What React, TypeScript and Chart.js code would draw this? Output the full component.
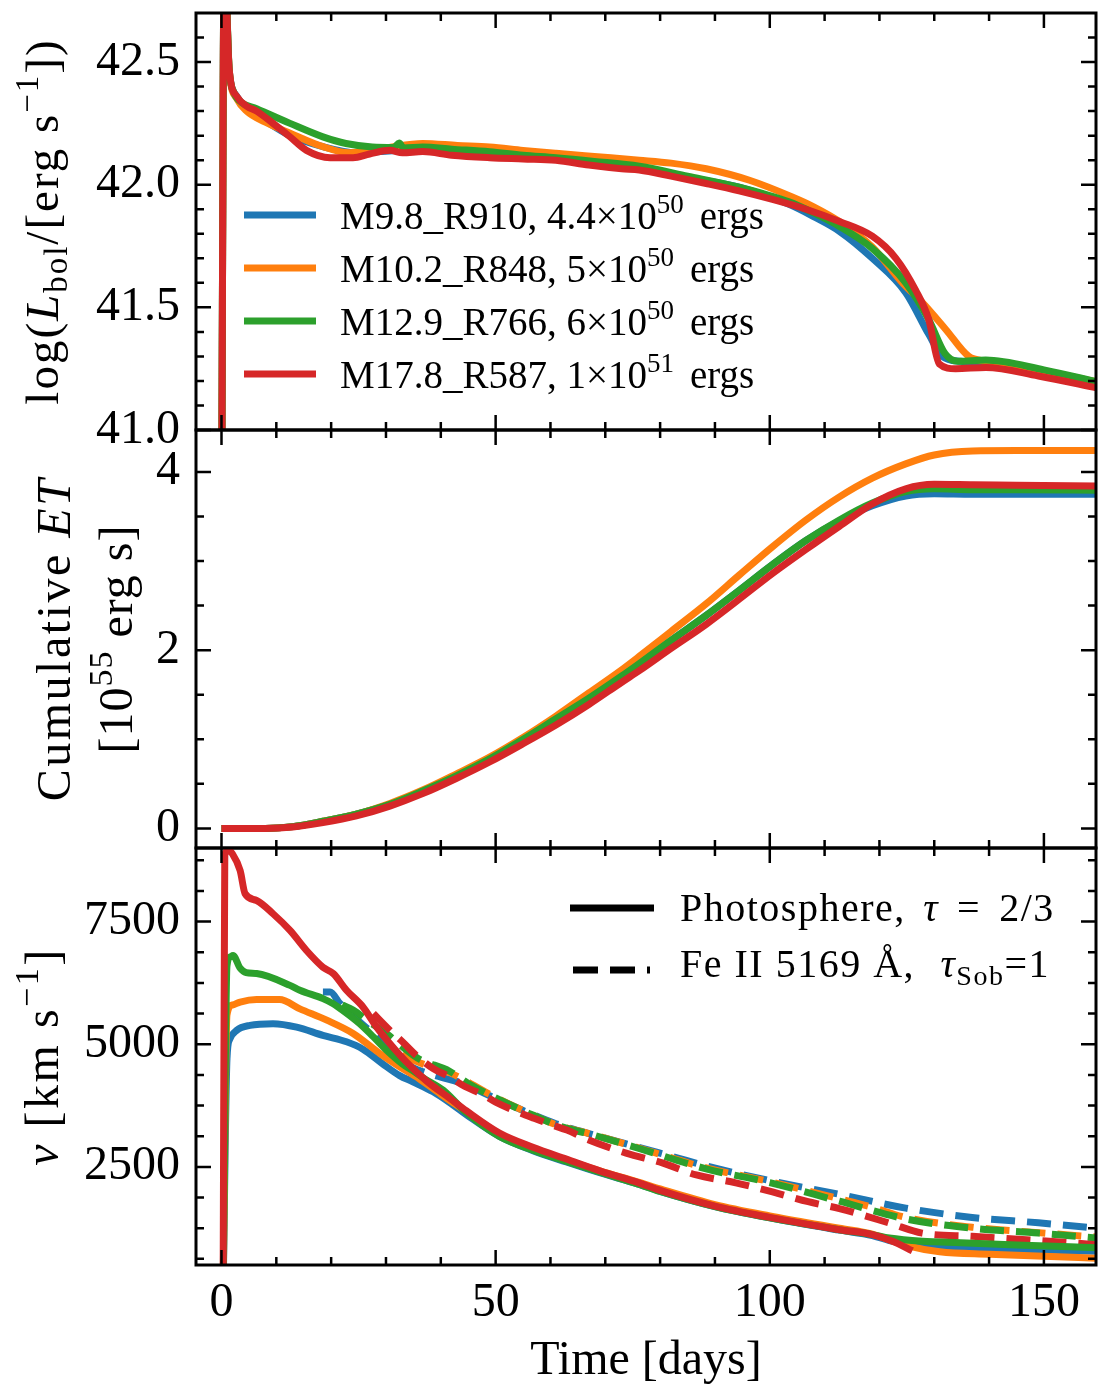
import React, { useEffect, useRef } from 'react';
import { Chart, registerables } from 'chart.js';

Chart.register(...registerables);

const FONT = '"Liberation Serif", "Times New Roman", serif';
const COLORS = ['#1f77b4', '#ff7f0e', '#2ca02c', '#d62728'];

// ---------- legend labels ----------
const MODEL_NAMES = ['M9.8_R910', 'M10.2_R848', 'M12.9_R766', 'M17.8_R587'];
const ENERGY_MANTISSA = ['4.4', '5', '6', '1'];
const ENERGY_EXP = ['50', '50', '50', '51'];

// ---------- axes ----------
const X_MIN = -4.65;
const X_MAX = 159.5;
const X_MAJOR = [0, 50, 100, 150];
const X_MINOR = [10, 20, 30, 40, 60, 70, 80, 90, 110, 120, 130, 140];

const L_MIN = 41.0;
const L_MAX = 42.7;
const L_MAJOR = [41.0, 41.5, 42.0, 42.5];
const L_MINOR = [41.1, 41.2, 41.3, 41.4, 41.6, 41.7, 41.8, 41.9, 42.1, 42.2, 42.3, 42.4, 42.6];

const E_MIN = -0.22;
const E_MAX = 4.47;
const E_MAJOR = [0, 2, 4];
const E_MINOR = [0.5, 1.0, 1.5, 2.5, 3.0, 3.5];

const V_MIN = 500;
const V_MAX = 9000;
const V_MAJOR = [2500, 5000, 7500];
const V_MINOR = [625, 1250, 1875, 3125, 3750, 4375, 5625, 6250, 6875, 8125, 8750];

// ---------- panel 1: log L_bol ----------
const L_T_BLUE = [0, 0.5, 1.4, 2.8, 4.6, 8, 12.5, 18.5, 24.5, 33.7, 40, 50, 60, 70, 76.2, 85, 94.4, 103.5, 108, 112.7, 118.7, 124.8, 129, 131.5, 134.8, 143, 150, 160];
const L_BLUE = [40.5, 42.95, 42.47, 42.36, 42.31, 42.26, 42.2, 42.155, 42.13, 42.14, 42.135, 42.12, 42.105, 42.09, 42.07, 42.03, 41.99, 41.92, 41.87, 41.81, 41.70, 41.56, 41.39, 41.30, 41.28, 41.27, 41.24, 41.19];

const L_T_ORANGE = [0, 0.5, 1.4, 2.8, 4.6, 8, 12.5, 18.5, 23.3, 30, 36.7, 43, 48.9, 55, 61, 68, 76.2, 82, 88.4, 96.3, 104.1, 108, 112.7, 118.7, 124.2, 127.8, 132.1, 136.3, 139.4, 150, 160];
const L_ORANGE = [40.5, 42.95, 42.47, 42.35, 42.30, 42.255, 42.21, 42.155, 42.13, 42.15, 42.168, 42.16, 42.154, 42.14, 42.128, 42.115, 42.10, 42.088, 42.065, 42.018, 41.95, 41.91, 41.85, 41.746, 41.60, 41.52, 41.41, 41.30, 41.28, 41.24, 41.195];

const L_T_GREEN = [0, 0.5, 1.4, 2.2, 3.4, 6.4, 12.5, 18.5, 22.7, 27.5, 31.5, 32.4, 33.2, 36.7, 42, 48.9, 55, 61, 68, 76.2, 85, 94.4, 103.5, 108, 112.7, 118.7, 124.8, 129, 132, 134.3, 139.4, 150, 160];
const L_GREEN = [40.5, 42.95, 42.47, 42.38, 42.34, 42.31, 42.25, 42.195, 42.168, 42.154, 42.152, 42.17, 42.15, 42.154, 42.145, 42.134, 42.12, 42.11, 42.095, 42.075, 42.035, 41.99, 41.93, 41.885, 41.83, 41.74, 41.60, 41.45, 41.31, 41.28, 41.285, 41.245, 41.195];

const L_T_RED = [0, 0.5, 1.4, 2.8, 4.6, 6.4, 9.4, 12.5, 15.5, 19.8, 24, 27, 30.7, 33, 36.7, 42, 48.9, 55, 61, 67, 73, 76.2, 82, 88.4, 94.4, 100.5, 106.6, 112.7, 118.7, 123, 126.6, 129, 130.9, 133.9, 139.4, 149, 160];
const L_RED = [40.5, 42.95, 42.47, 42.36, 42.32, 42.30, 42.25, 42.195, 42.14, 42.11, 42.11, 42.125, 42.14, 42.13, 42.135, 42.12, 42.11, 42.105, 42.10, 42.08, 42.065, 42.06, 42.035, 42.005, 41.975, 41.94, 41.90, 41.85, 41.79, 41.70, 41.57, 41.45, 41.27, 41.25, 41.255, 41.22, 41.17];

// ---------- panel 2: cumulative ET ----------
const E_T = [0, 8, 13, 18.5, 24.6, 30.7, 36.7, 42.8, 48.9, 55, 61, 67, 73, 76.2, 82, 88.4, 94.4, 100.5, 106.6, 112.7, 118.7, 124.8, 130, 137, 145, 160];
const E_BLUE = [0, 0, 0.02, 0.08, 0.16, 0.27, 0.42, 0.59, 0.78, 1.0, 1.23, 1.46, 1.71, 1.85, 2.11, 2.39, 2.67, 2.96, 3.23, 3.45, 3.62, 3.73, 3.755, 3.75, 3.75, 3.75];
const E_ORANGE = [0, 0, 0.02, 0.08, 0.16, 0.28, 0.43, 0.61, 0.80, 1.02, 1.26, 1.52, 1.78, 1.93, 2.21, 2.52, 2.84, 3.16, 3.46, 3.72, 3.93, 4.09, 4.19, 4.235, 4.24, 4.24];
const E_GREEN = [0, 0, 0.02, 0.08, 0.16, 0.27, 0.42, 0.59, 0.78, 1.0, 1.23, 1.46, 1.71, 1.85, 2.11, 2.39, 2.67, 2.96, 3.23, 3.46, 3.65, 3.78, 3.81, 3.80, 3.80, 3.795];
const E_RED = [0, 0, 0.015, 0.065, 0.14, 0.25, 0.39, 0.56, 0.745, 0.95, 1.16, 1.39, 1.64, 1.77, 2.02, 2.29, 2.57, 2.86, 3.13, 3.39, 3.64, 3.81, 3.86, 3.855, 3.85, 3.84];

// ---------- panel 3: velocities, photosphere (solid) ----------
const VP_T_BLUE = [0.3, 1.0, 1.5, 2.8, 5.2, 9.4, 13.7, 18.5, 22.8, 25.8, 29.4, 32.5, 34.9, 38.6, 42, 44.7, 50.7, 56.8, 62.9, 69, 76, 80, 90, 100, 112.7, 118.7, 121.8, 127.8, 135, 145, 159.5];
const VP_BLUE = [0, 4700, 5100, 5285, 5385, 5420, 5350, 5180, 5050, 4900, 4600, 4360, 4235, 4030, 3780, 3560, 3120, 2830, 2600, 2380, 2150, 2000, 1690, 1460, 1210, 1100, 1000, 900, 860, 820, 780];

const VP_T_ORANGE = [0.3, 1.0, 2.0, 3.4, 6.4, 10.6, 14.3, 19.2, 24, 28.9, 32.5, 36, 40, 44.7, 50.7, 56.8, 62.9, 69, 76, 80, 90, 100, 112.7, 118.7, 124.8, 131, 140, 150, 159.5];
const VP_ORANGE = [0, 5600, 5800, 5860, 5910, 5910, 5720, 5490, 5220, 4810, 4540, 4300, 3980, 3620, 3150, 2870, 2640, 2420, 2190, 2050, 1730, 1500, 1250, 1130, 900, 770, 720, 680, 640];

const VP_T_GREEN = [0.3, 1.0, 1.6, 2.1, 3.4, 4.5, 6.4, 12.5, 14.3, 18.5, 20.3, 22, 25.2, 27.7, 30.1, 33, 35, 37, 40.4, 44.7, 50.7, 56.8, 62.9, 69, 76, 80, 90, 100, 112.7, 118.7, 121.8, 127.8, 134.8, 145, 159.5];
const VP_GREEN = [0, 6600, 6780, 6810, 6550, 6460, 6440, 6200, 6100, 5930, 5830, 5700, 5420, 5150, 4880, 4600, 4450, 4300, 4065, 3600, 3120, 2840, 2610, 2390, 2150, 2000, 1690, 1460, 1220, 1120, 1050, 985, 955, 910, 850];

const VP_T_RED = [0.3, 0.6, 1.2, 2.0, 3.4, 4.3, 6.4, 9.4, 12.5, 15.5, 18.5, 20.4, 22.8, 25.8, 28.3, 30.7, 33.7, 37.4, 41.6, 44.7, 50.7, 56.8, 62.9, 69, 76, 80, 90, 100, 112.7, 118.7, 122.5, 126];
const VP_RED = [0, 8850, 8960, 8880, 8540, 8070, 7930, 7660, 7320, 6910, 6570, 6440, 6100, 5760, 5350, 5015, 4640, 4250, 3900, 3640, 3190, 2900, 2660, 2420, 2180, 2020, 1700, 1470, 1220, 1120, 980, 790];

// ---------- panel 3: velocities, Fe II 5169 (dashed) ----------
const VF_T_BLUE = [18.5, 19.8, 21.6, 23.5, 26.3, 28, 31, 33.7, 36, 40, 44, 48.9, 55, 61, 67, 76, 82.6, 88.4, 100, 112.7, 124.8, 136.9, 149, 159.5];
const VF_BLUE = [6065, 6065, 5830, 5625, 5350, 5200, 4900, 4600, 4470, 4330, 4200, 3950, 3650, 3380, 3180, 2900, 2700, 2520, 2220, 1940, 1660, 1470, 1360, 1250];

const VF_T_ORANGE = [33, 35, 38, 42, 48.9, 55, 61, 67, 76, 88.4, 100, 112.7, 118, 124.8, 136.9, 149, 159.5];
const VF_ORANGE = [4800, 4675, 4550, 4400, 3980, 3650, 3360, 3180, 2890, 2480, 2200, 1850, 1700, 1470, 1270, 1160, 1070];

const VF_T_GREEN = [22, 24, 27, 30.1, 33, 35.8, 41.6, 45, 49.4, 55.5, 61.7, 67.8, 76, 88.4, 100, 112.7, 124.8, 136.9, 149, 159.5];
const VF_GREEN = [5800, 5700, 5450, 5220, 4950, 4715, 4450, 4200, 3940, 3620, 3330, 3150, 2880, 2460, 2180, 1800, 1440, 1250, 1150, 1050];

const VF_T_RED = [27.7, 30.7, 33, 35.5, 38.6, 41.6, 44, 48, 50, 54, 57, 60.4, 63, 67, 73.8, 80.4, 86.6, 93.8, 100.5, 107, 112.7, 121.8, 127.8, 136.9, 149, 159.5];
const VF_RED = [5625, 5285, 5050, 4775, 4505, 4335, 4165, 3950, 3820, 3620, 3490, 3350, 3250, 3050, 2780, 2580, 2335, 2175, 1990, 1790, 1650, 1355, 1150, 1085, 1000, 915];

// ---------- helpers ----------
type Part = { t: string; it?: boolean; sub?: boolean; sup?: boolean; gap?: number };

const LINE_W = 7;

const pts = (t: number[], v: number[]) => t.map((x, i) => ({ x, y: v[i] }));

function series(label: string, t: number[], v: number[], color: string, order: number, dashed = false) {
  return {
    label,
    data: pts(t, v),
    borderColor: color,
    backgroundColor: color,
    borderWidth: LINE_W,
    pointRadius: 0,
    pointHoverRadius: 0,
    fill: false,
    tension: 0,
    cubicInterpolationMode: 'monotone',
    borderJoinStyle: 'round',
    borderCapStyle: 'butt',
    borderDash: dashed ? [24, 12] : [],
    clip: 0,
    order,
  };
}

function partFont(p: Part, size: number) {
  const s = p.sub || p.sup ? Math.round(size * 0.7) : size;
  return `${p.it ? 'italic ' : ''}${s}px ${FONT}`;
}

function setSpacing(ctx: CanvasRenderingContext2D, ls: number) {
  try {
    (ctx as any).letterSpacing = `${ls}px`;
  } catch (e) {
    /* ignore */
  }
}

function richWidth(ctx: CanvasRenderingContext2D, parts: Part[], size: number, ls: number) {
  let w = 0;
  setSpacing(ctx, ls);
  for (const p of parts) {
    ctx.font = partFont(p, size);
    w += (p.gap || 0) + ctx.measureText(p.t).width;
  }
  return w;
}

function drawRich(ctx: CanvasRenderingContext2D, parts: Part[], x: number, y: number, size: number, center = false, ls = 0) {
  let cx = center ? x - richWidth(ctx, parts, size, ls) / 2 : x;
  setSpacing(ctx, ls);
  ctx.textBaseline = 'alphabetic';
  ctx.textAlign = 'left';
  ctx.fillStyle = '#000';
  for (const p of parts) {
    cx += p.gap || 0;
    ctx.font = partFont(p, size);
    const dy = p.sup ? -size * 0.42 : p.sub ? size * 0.2 : 0;
    ctx.fillText(p.t, cx, y + dy);
    cx += ctx.measureText(p.t).width;
  }
  setSpacing(ctx, 0);
}

function drawRotated(ctx: CanvasRenderingContext2D, parts: Part[], bx: number, cy: number, size: number, ls = 0) {
  ctx.save();
  ctx.translate(bx, cy);
  ctx.rotate(-Math.PI / 2);
  drawRich(ctx, parts, 0, 0, size, true, ls);
  ctx.restore();
}

type Spec = {
  key: string;
  top: number;
  height: number;
  padding: { left: number; right: number; top: number; bottom: number };
  datasets: any[];
  yMin: number;
  yMax: number;
  yMajor: number[];
  yMinor: number[];
  yFmt: (v: number) => string;
  showX: boolean;
  drawText: (ctx: CanvasRenderingContext2D, a: any, top: number) => void;
};

function framePlugin(spec: Spec) {
  return {
    id: 'frame_' + spec.key,
    afterDatasetsDraw(chart: any) {
      const { ctx, chartArea: a } = chart;
      const xs = chart.scales.x;
      const ys = chart.scales.y;
      ctx.save();
      ctx.strokeStyle = '#000';
      ctx.lineCap = 'butt';
      ctx.lineWidth = 2.5;
      ctx.beginPath();
      const vx = (vals: number[], len: number) =>
        vals.forEach((v) => {
          const p = xs.getPixelForValue(v);
          ctx.moveTo(p, a.bottom);
          ctx.lineTo(p, a.bottom - len);
          ctx.moveTo(p, a.top);
          ctx.lineTo(p, a.top + len);
        });
      const vy = (vals: number[], len: number) =>
        vals.forEach((v) => {
          const p = ys.getPixelForValue(v);
          ctx.moveTo(a.left, p);
          ctx.lineTo(a.left + len, p);
          ctx.moveTo(a.right, p);
          ctx.lineTo(a.right - len, p);
        });
      vx(X_MAJOR, 15);
      vx(X_MINOR, 8);
      vy(spec.yMajor, 15);
      vy(spec.yMinor, 8);
      ctx.stroke();
      ctx.lineWidth = 3;
      ctx.strokeRect(a.left, a.top, a.right - a.left, a.bottom - a.top);
      ctx.restore();
      ctx.save();
      spec.drawText(ctx, a, spec.top);
      ctx.restore();
    },
  };
}

function makeConfig(spec: Spec): any {
  return {
    type: 'line',
    data: { datasets: spec.datasets },
    options: {
      responsive: false,
      animation: false,
      devicePixelRatio: 1,
      events: [],
      layout: { padding: spec.padding },
      plugins: { legend: { display: false }, tooltip: { enabled: false }, title: { display: false } },
      scales: {
        x: {
          type: 'linear',
          min: X_MIN,
          max: X_MAX,
          display: spec.showX,
          grid: { display: false, drawTicks: false },
          border: { display: false },
          ticks: {
            font: { family: FONT, size: 48 },
            color: '#000',
            padding: 10,
            maxRotation: 0,
            autoSkip: false,
            callback: (v: any) => String(v),
          },
          title: {
            display: spec.showX,
            text: 'Time [days]',
            color: '#000',
            font: { family: FONT, size: 48 },
            padding: { top: 0, bottom: 0 },
          },
          afterBuildTicks: (s: any) => {
            s.ticks = X_MAJOR.map((v) => ({ value: v }));
          },
          afterFit: (s: any) => {
            s.height = spec.showX ? 125 : 0;
            s.paddingLeft = 0;
            s.paddingRight = 0;
          },
        },
        y: {
          type: 'linear',
          position: 'left',
          min: spec.yMin,
          max: spec.yMax,
          grid: { display: false, drawTicks: false },
          border: { display: false },
          ticks: {
            font: { family: FONT, size: 48 },
            color: '#000',
            padding: 16,
            autoSkip: false,
            callback: (v: any) => spec.yFmt(Number(v)),
          },
          afterBuildTicks: (s: any) => {
            s.ticks = spec.yMajor.map((v) => ({ value: v }));
          },
          afterFit: (s: any) => {
            s.width = 196;
            s.paddingTop = 0;
            s.paddingBottom = 0;
          },
        },
      },
    },
    plugins: [framePlugin(spec)],
  };
}

// ---------- panel specs ----------
const LEGEND1_ROWS = [215, 268, 321, 374];

const spec1: Spec = {
  key: 'lum',
  top: 0,
  height: 470,
  padding: { left: 0, right: 3, top: 13, bottom: 40 },
  datasets: [
    series(MODEL_NAMES[0], L_T_BLUE, L_BLUE, COLORS[0], 4),
    series(MODEL_NAMES[1], L_T_ORANGE, L_ORANGE, COLORS[1], 3),
    series(MODEL_NAMES[2], L_T_GREEN, L_GREEN, COLORS[2], 2),
    series(MODEL_NAMES[3], L_T_RED, L_RED, COLORS[3], 1),
  ],
  yMin: L_MIN,
  yMax: L_MAX,
  yMajor: L_MAJOR,
  yMinor: L_MINOR,
  yFmt: (v) => v.toFixed(1),
  showX: false,
  drawText: (ctx, a, top) => {
    const cy = (a.top + a.bottom) / 2;
    drawRotated(
      ctx,
      [{ t: 'log(' }, { t: 'L', it: true }, { t: 'bol', sub: true }, { t: '/[erg s' }, { t: '\u22121', sup: true }, { t: '])' }],
      58,
      cy,
      47,
      2
    );
    LEGEND1_ROWS.forEach((ry, i) => {
      const y = ry - top;
      ctx.strokeStyle = COLORS[i];
      ctx.lineWidth = LINE_W;
      ctx.lineCap = 'butt';
      ctx.setLineDash([]);
      ctx.beginPath();
      ctx.moveTo(244, y);
      ctx.lineTo(316, y);
      ctx.stroke();
      drawRich(
        ctx,
        [
          { t: `${MODEL_NAMES[i]}, ${ENERGY_MANTISSA[i]}\u00d710` },
          { t: ENERGY_EXP[i], sup: true },
          { t: 'ergs', gap: 16 },
        ],
        340,
        y + 14,
        39
      );
    });
  },
};

const spec2: Spec = {
  key: 'et',
  top: 400,
  height: 470,
  padding: { left: 0, right: 3, top: 30, bottom: 22 },
  datasets: [
    series(MODEL_NAMES[0], E_T, E_BLUE, COLORS[0], 4),
    series(MODEL_NAMES[1], E_T, E_ORANGE, COLORS[1], 3),
    series(MODEL_NAMES[2], E_T, E_GREEN, COLORS[2], 2),
    series(MODEL_NAMES[3], E_T, E_RED, COLORS[3], 1),
  ],
  yMin: E_MIN,
  yMax: E_MAX,
  yMajor: E_MAJOR,
  yMinor: E_MINOR,
  yFmt: (v) => String(v),
  showX: false,
  drawText: (ctx, a) => {
    const cy = (a.top + a.bottom) / 2;
    drawRotated(ctx, [{ t: 'Cumulative ' }, { t: 'ET', it: true }], 70, cy, 48, 2.5);
    drawRotated(ctx, [{ t: '[10' }, { t: '55', sup: true }, { t: ' erg s]' }], 132, cy, 48, 1);
  },
};

const spec3: Spec = {
  key: 'vel',
  top: 820,
  height: 570,
  padding: { left: 0, right: 3, top: 28, bottom: 0 },
  datasets: [
    series(MODEL_NAMES[0] + ' Fe II', VF_T_BLUE, VF_BLUE, COLORS[0], 8, true),
    series(MODEL_NAMES[1] + ' Fe II', VF_T_ORANGE, VF_ORANGE, COLORS[1], 7, true),
    series(MODEL_NAMES[2] + ' Fe II', VF_T_GREEN, VF_GREEN, COLORS[2], 6, true),
    series(MODEL_NAMES[3] + ' Fe II', VF_T_RED, VF_RED, COLORS[3], 5, true),
    series(MODEL_NAMES[0], VP_T_BLUE, VP_BLUE, COLORS[0], 4),
    series(MODEL_NAMES[1], VP_T_ORANGE, VP_ORANGE, COLORS[1], 3),
    series(MODEL_NAMES[2], VP_T_GREEN, VP_GREEN, COLORS[2], 2),
    series(MODEL_NAMES[3], VP_T_RED, VP_RED, COLORS[3], 1),
  ],
  yMin: V_MIN,
  yMax: V_MAX,
  yMajor: V_MAJOR,
  yMinor: V_MINOR,
  yFmt: (v) => String(v),
  showX: true,
  drawText: (ctx, a, top) => {
    const cy = (a.top + a.bottom) / 2;
    drawRotated(ctx, [{ t: 'v', it: true }, { t: ' [km s' }, { t: '\u22121', sup: true }, { t: ']' }], 58, cy, 48, 2.5);
    ctx.strokeStyle = '#000';
    ctx.lineWidth = LINE_W;
    ctx.lineCap = 'butt';
    ctx.setLineDash([]);
    ctx.beginPath();
    ctx.moveTo(570, 908 - top);
    ctx.lineTo(654, 908 - top);
    ctx.stroke();
    ctx.setLineDash([25, 12]);
    ctx.beginPath();
    ctx.moveTo(573, 970 - top);
    ctx.lineTo(650, 970 - top);
    ctx.stroke();
    ctx.setLineDash([]);
    drawRich(
      ctx,
      [{ t: 'Photosphere, ' }, { t: '\u03c4', it: true, gap: 6 }, { t: '=', gap: 18 }, { t: '2/3', gap: 18 }],
      680,
      921 - top,
      40,
      false,
      1.5
    );
    drawRich(
      ctx,
      [{ t: 'Fe II 5169 \u00c5, ' }, { t: '\u03c4', it: true, gap: 14 }, { t: 'Sob', sub: true }, { t: '=1' }],
      680,
      977 - top,
      40,
      false,
      1.5
    );
  },
};

function Panel({ spec }: { spec: Spec }) {
  const ref = useRef<HTMLCanvasElement | null>(null);
  useEffect(() => {
    if (!ref.current) return;
    const chart = new Chart(ref.current, makeConfig(spec));
    return () => chart.destroy();
  }, []);
  return (
    <canvas
      ref={ref}
      width={1099}
      height={spec.height}
      style={{ position: 'absolute', left: 0, top: spec.top, width: 1099, height: spec.height, display: 'block' }}
    />
  );
}

export default function App() {
  return (
    <div
      style={{
        position: 'absolute',
        left: 0,
        top: 0,
        width: 1099,
        height: 1390,
        overflow: 'hidden',
        background: '#fff',
      }}
    >
      <Panel spec={spec1} />
      <Panel spec={spec2} />
      <Panel spec={spec3} />
    </div>
  );
}
